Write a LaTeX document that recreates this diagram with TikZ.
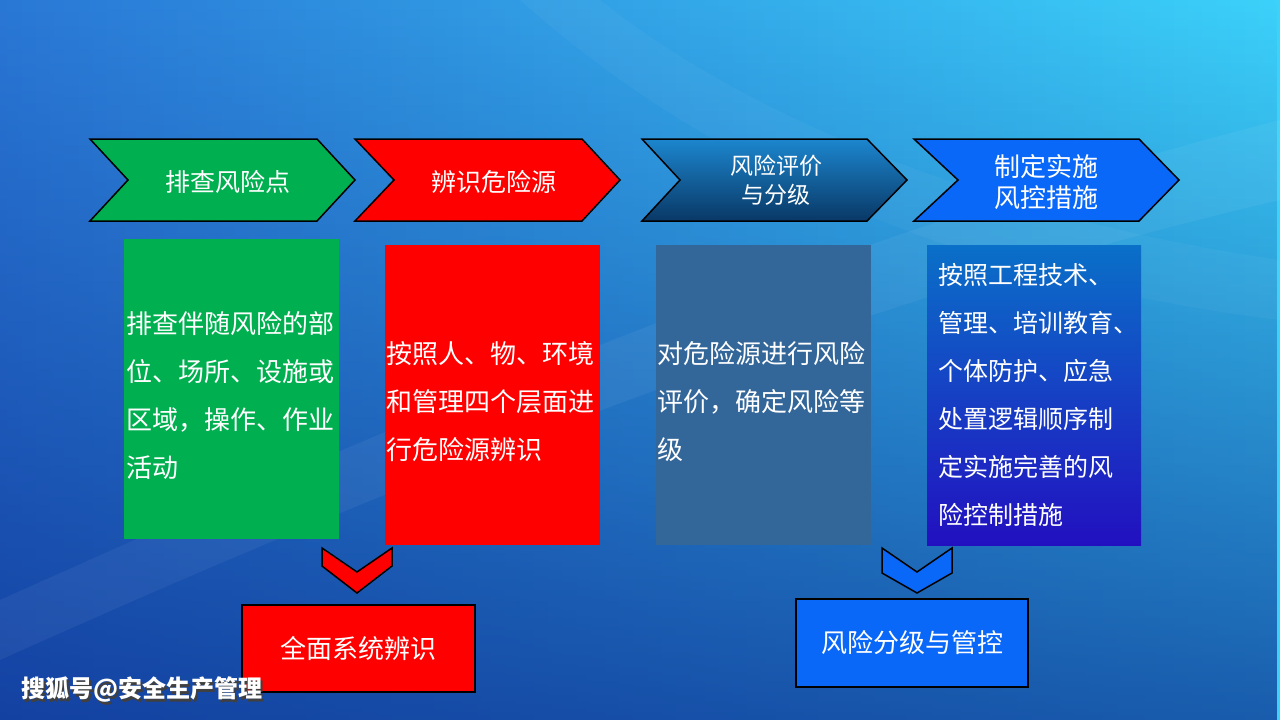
\documentclass[tikz,border=0pt]{standalone}
\usepackage{fontspec}
\setmainfont{Noto Sans CJK SC}
\usetikzlibrary{positioning, fadings}
\definecolor{bgtopleft}{HTML}{2A78D6}
\definecolor{bgtopright}{HTML}{3CD2FA}
\definecolor{bgdeep}{HTML}{0A2A8C}
\definecolor{stepgreen}{HTML}{00B050}
\definecolor{stepred}{HTML}{FF0000}
\definecolor{steptop}{HTML}{1C86CE}
\definecolor{stepbottom}{HTML}{093866}
\definecolor{stepblue}{HTML}{0A68F8}
\definecolor{slate}{HTML}{336699}
\definecolor{ctrltop}{HTML}{0A70C8}
\definecolor{ctrlbottom}{HTML}{2210C0}
\newcommand\topgap{\rule{0pt}{35pt}}
\tikzset{
stepshape/.style={draw=black, line width=1.5pt, line join=miter}, % outline of the big chevrons
steplabel/.style={text=white, align=center, font=\fontsize{25}{30}\selectfont}, % text on the chevrons
infobox/.style={text=white, align=left, text width=211pt, inner xsep=2pt, minimum height=300pt, font=\fontsize{26}{48}\selectfont}, % the four tall boxes
downshape/.style={draw=black, line width=1.5pt}, % small chevrons pointing down
resultbox/.style={draw=black, line width=2pt, text=white, font=\fontsize{26}{30}\selectfont}, % boxes at the bottom
}
\begin{document}
\begin{tikzpicture}[x=1pt, y=-1pt]
\useasboundingbox (0,0) rectangle (1280,720);
% background
\shade[left color=bgtopleft, right color=bgtopright] (0,0) rectangle (1280,720);
\fill[bgdeep, path fading=north, fill opacity=0.7] (0,0) rectangle (1280,720);
\fill[white, fill opacity=0.05] (0,600) .. controls (400,420) and (850,230) .. (1280,120) -- (1280,200) .. controls (850,300) and (400,480) .. (0,660) -- cycle;
\fill[white, fill opacity=0.035] (600,0) .. controls (750,120) and (1000,220) .. (1280,260) -- (1280,320) .. controls (950,280) and (700,160) .. (520,0) -- cycle;

% chevrons
\draw[stepshape, fill=stepgreen] (90,139) -- (317,139) -- (355,180) -- (317,221) -- (90,221) -- (128,180) -- cycle;
\draw[stepshape, fill=stepred] (355,139) -- (582,139) -- (620,180) -- (582,221) -- (355,221) -- (394,180) -- cycle;
\draw[stepshape, top color=steptop, bottom color=stepbottom] (642,139) -- (867,139) -- (907,180) -- (867,221) -- (642,221) -- (680,180) -- cycle;
\draw[stepshape, fill=stepblue] (914,139) -- (1139,139) -- (1179,180) -- (1139,221) -- (914,221) -- (958,180) -- cycle;
\node[steplabel] (find) at (228,182) {排查风险点};
\node[steplabel] (identify) at (494,182) {辨识危险源};
\node[steplabel, font=\fontsize{23}{29}\selectfont] (grade) at (776,180) {风险评价\\与分级};
\node[steplabel, font=\fontsize{26}{31}\selectfont] (control) at (1046,182) {制定实施\\风控措施};

% boxes
\node[infobox, fill=stepgreen] (findbox) at (231.5,389) {\topgap 排查伴随风险的部\\位、场所、设施或\\区域，操作、作业\\活动};
\node[infobox, fill=stepred] (identifybox) at (492,395) {\topgap 按照人、物、环境\\和管理四个层面进\\行危险源辨识};
\node[infobox, fill=slate] (gradebox) at (763,395) {\topgap 对危险源进行风险\\评价，确定风险等\\级};
\node[infobox, top color=ctrltop, bottom color=ctrlbottom, text width=204pt, inner xsep=5pt, font=\fontsize{25}{48}\selectfont] (controlbox) at (1034,395) {\hspace*{6pt}按照工程技术、\\\hspace*{6pt}管理、培训教育、\\\hspace*{6pt}个体防护、应急\\\hspace*{6pt}处置逻辑顺序制\\\hspace*{6pt}定实施完善的风\\\hspace*{6pt}险控制措施};

% down chevrons and results
\draw[downshape, fill=stepred] (322,548) -- (357,572) -- (392,548) -- (392,566) -- (357,593) -- (322,566) -- cycle;
\draw[downshape, fill=stepblue] (882,548) -- (917,572) -- (952,548) -- (952,573) -- (917,593) -- (882,573) -- cycle;
\node[resultbox, fill=stepred, minimum width=233pt, minimum height=87pt] (whole) at (358.5,648.5) {全面系统辨识};
\node[resultbox, fill=stepblue, minimum width=232pt, minimum height=88pt] (manage) at (912,643) {风险分级与管控};

% watermark
\node[anchor=west, text=black!75, font=\bfseries\fontsize{24}{28}\selectfont] (markshadow) at (20,692) {搜狐号@安全生产管理};
\node[anchor=west, text=white, font=\bfseries\fontsize{24}{28}\selectfont] (mark) at (18,690) {搜狐号@安全生产管理};
\end{tikzpicture}
\end{document}
